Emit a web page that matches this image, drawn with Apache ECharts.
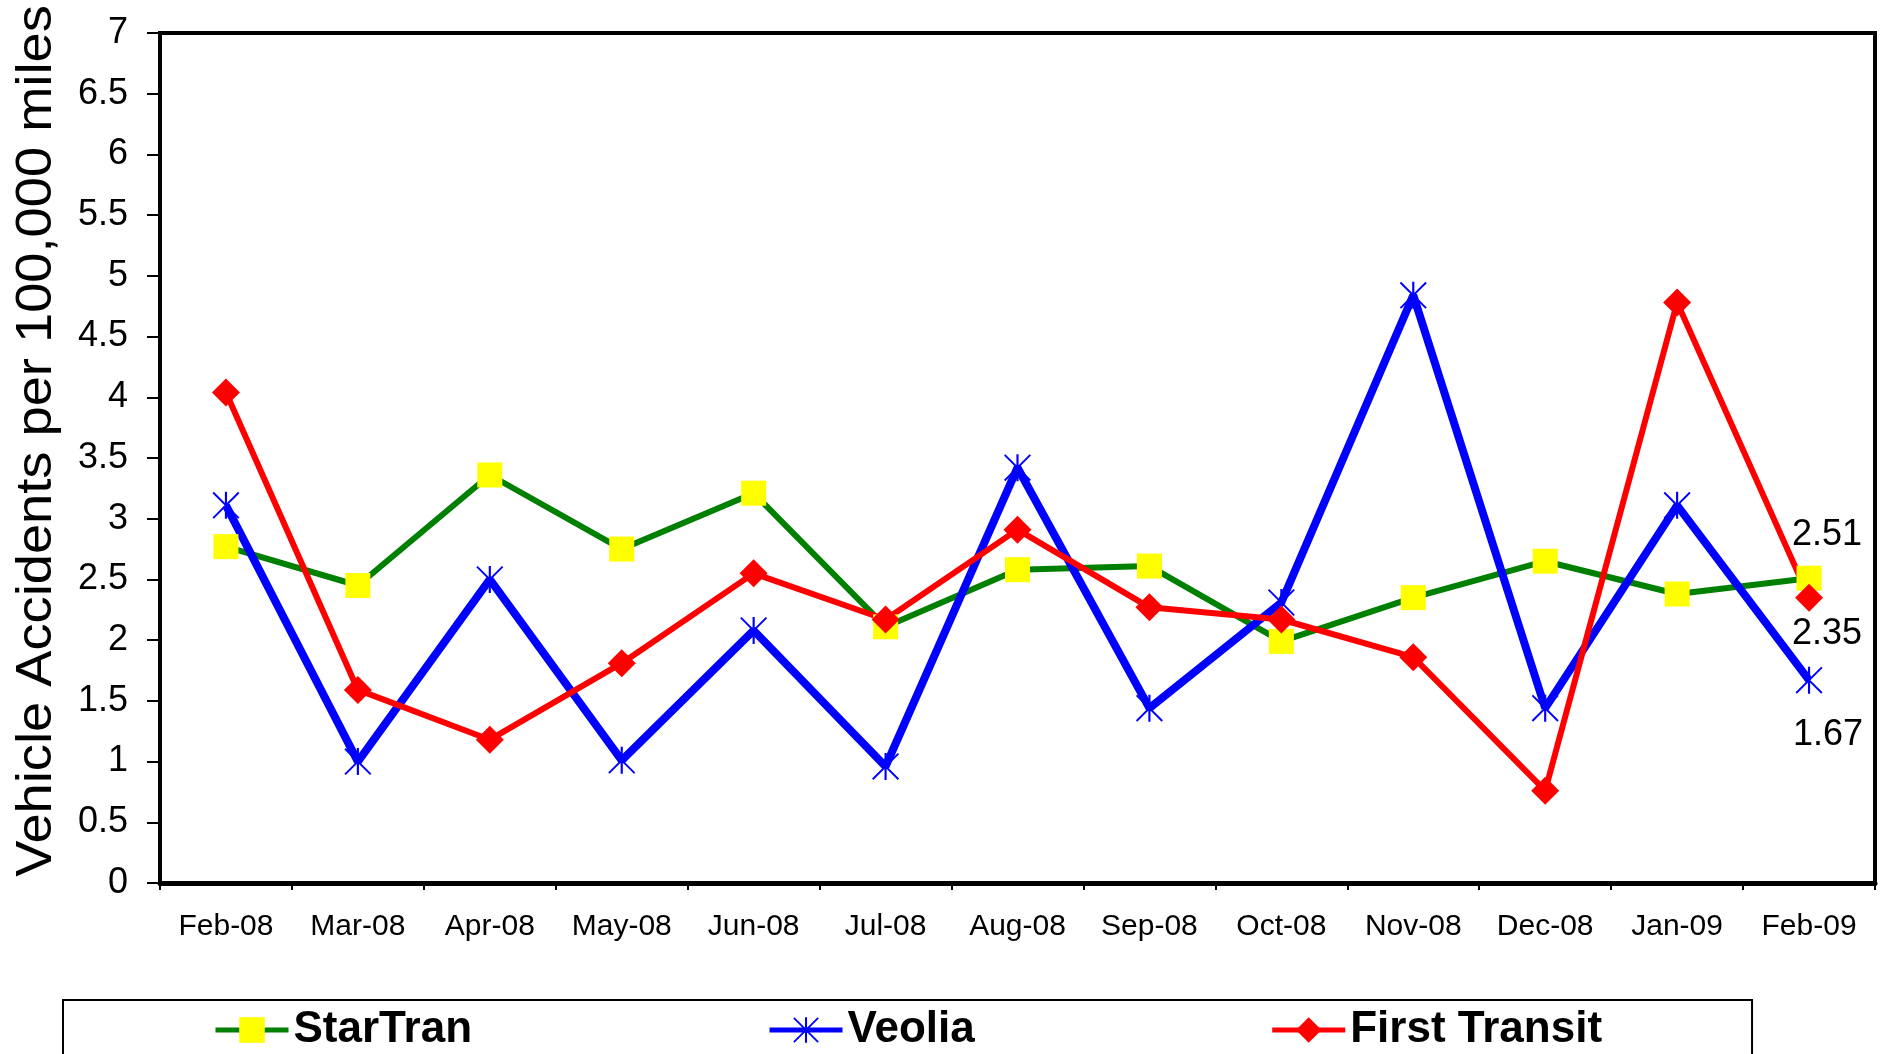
<!DOCTYPE html>
<html>
<head>
<meta charset="utf-8">
<script src="https://cdn.jsdelivr.net/npm/echarts@6/dist/echarts.min.js"></script>
<style>
  html, body { margin: 0; padding: 0; background: #fff; }
  #chart { width: 1891px; height: 1054px; }
</style>
</head>
<body>
<div id="chart"></div>
<script>
const months = ['Feb-08', 'Mar-08', 'Apr-08', 'May-08', 'Jun-08', 'Jul-08', 'Aug-08',
  'Sep-08', 'Oct-08', 'Nov-08', 'Dec-08', 'Jan-09', 'Feb-09'];
const starTran = [2.77, 2.45, 3.36, 2.75, 3.21, 2.11, 2.58, 2.61, 1.99, 2.35, 2.65, 2.38, 2.51];
const veolia = [3.11, 1.00, 2.50, 1.01, 2.08, 0.96, 3.42, 1.44, 2.31, 4.84, 1.44, 3.11, 1.67];
const firstTransit = [4.04, 1.59, 1.18, 1.81, 2.55, 2.17, 2.91, 2.27, 2.17, 1.86, 0.76, 4.78, 2.35];
const yTitle = 'Vehicle Accidents per 100,000 miles';

const FONT = 'Liberation Sans, Arial, sans-serif';
const asterisk = 'path://M46 0H54V100H46Z M5 0L100 95L95 100L0 5Z M95 0L100 5L5 100L0 95Z';

// label only the last point of each series
const withEndLabel = (vals, offset) => vals.map((v, i) => i < vals.length - 1 ? v : {
  value: v,
  label: {
    show: true, position: 'inside', offset: offset,
    formatter: '{c}', color: '#000', fontSize: 36, fontFamily: FONT
  }
});

const chart = echarts.init(document.getElementById('chart'));
chart.setOption({
  animation: false,
  backgroundColor: '#fff',
  grid: {
    left: 160, right: 16, top: 33, bottom: 171,
    show: true, borderColor: '#000', borderWidth: 4
  },
  // y title drawn as graphic text so it can be stretched like the original
  graphic: [{
    type: 'text',
    x: 37, y: 441,
    rotation: Math.PI / 2,
    scaleX: 1.085,
    style: {
      text: yTitle, fill: '#000', fontSize: 50, fontFamily: FONT,
      align: 'center', verticalAlign: 'middle'
    }
  }],
  legend: {
    data: ['StarTran', 'Veolia', 'First Transit'],
    left: 63, top: 1000,
    padding: [8, 150, 40, 150],
    borderColor: '#000', borderWidth: 2,
    itemGap: 295, itemWidth: 73, itemHeight: 32,
    lineStyle: { width: 5 },
    textStyle: { color: '#000', fontSize: 44, fontWeight: 'bold', fontFamily: FONT }
  },
  xAxis: {
    type: 'category',
    data: months,
    boundaryGap: true,
    axisLine: { lineStyle: { color: '#000', width: 5 } },
    axisTick: { show: true, length: 7, lineStyle: { color: '#000', width: 2 } },
    axisLabel: { color: '#000', fontSize: 30, margin: 29, fontFamily: FONT }
  },
  yAxis: {
    type: 'value',
    min: 0, max: 7, interval: 0.5,
    axisLine: { show: true, lineStyle: { color: '#000', width: 4 } },
    axisTick: { show: true, length: 13, lineStyle: { color: '#000', width: 2 } },
    axisLabel: { color: '#000', fontSize: 36, margin: 32, fontFamily: FONT },
    splitLine: { show: false }
  },
  series: [
    {
      name: 'StarTran', type: 'line',
      data: withEndLabel(starTran, [18, -43]),
      symbol: 'rect', symbolSize: 25,
      lineStyle: { color: '#008000', width: 6 },
      itemStyle: { color: '#ffff00', borderWidth: 0 }
    },
    {
      name: 'Veolia', type: 'line',
      data: withEndLabel(veolia, [19, 55]),
      symbol: asterisk, symbolSize: 27,
      lineStyle: { color: '#0000ff', width: 8 },
      itemStyle: { color: '#0000ff', borderWidth: 0 }
    },
    {
      name: 'First Transit', type: 'line',
      data: withEndLabel(firstTransit, [18, 36]),
      symbol: 'diamond', symbolSize: 28,
      lineStyle: { color: '#ff0000', width: 6 },
      itemStyle: { color: '#ff0000', borderWidth: 0 }
    }
  ]
});
</script>
</body>
</html>
